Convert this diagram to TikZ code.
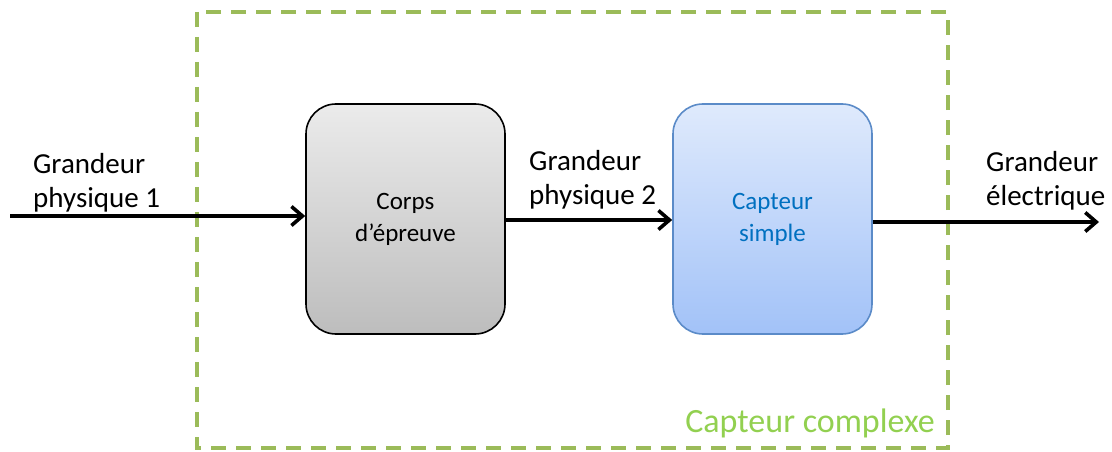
\documentclass[tikz,border=0pt]{standalone}
\usepackage{fontspec}
\setmainfont{Carlito}
\usetikzlibrary{arrows.meta}
\definecolor{frameGreen}{HTML}{9BBB59}
\definecolor{textGreen}{HTML}{92D050}
\definecolor{blueText}{HTML}{0070C0}
\definecolor{blueBorder}{HTML}{5B8BC8}
\definecolor{grayTop}{HTML}{EBEBEB}
\definecolor{grayBot}{HTML}{BDBDBD}
\definecolor{blueTop}{HTML}{DFEAFC}
\definecolor{blueBot}{HTML}{A2C2F8}
\tikzset{
  blockbox/.style={rounded corners=30pt, minimum width=199pt, minimum height=230pt,
    line width=1.6pt, align=center, inner sep=0pt, font=\fontsize{25}{32}\selectfont},
  graybox/.style={blockbox, draw=black, top color=grayTop, bottom color=grayBot},
  bluebox/.style={blockbox, draw=blueBorder, top color=blueTop, bottom color=blueBot, text=blueText},
  flow/.style={line width=3.6pt, -{Straight Barb[length=11pt,width=19pt]}},
  label/.style={anchor=north west, inner sep=0pt, align=left, font=\fontsize{29}{34}\selectfont},
  framebox/.style={draw=frameGreen, line width=4pt, dash pattern=on 15pt off 10pt}
}
\begin{document}
\begin{tikzpicture}[x=1pt,y=-1pt]
\useasboundingbox (0,0) rectangle (1112,452);
\draw[framebox] (197,12) rectangle (948,448);
\node[anchor=base east, inner sep=0pt, text=textGreen, font=\fontsize{34}{40}\selectfont] (complexe) at (935,432) {Capteur complexe};
\node[graybox] (corps) at (405.5,219) {\rule{0pt}{8pt}Corps\\d’épreuve};
\node[bluebox] (capteur) at (772.5,219) {\rule{0pt}{8pt}Capteur\\simple};
\coordinate (in) at (10,216);
\coordinate (out) at (1099,222);
\draw[flow] (in) -- (corps.west |- in);
\draw[flow] (corps.east |- 0,220) -- (capteur.west |- 0,220);
\draw[flow] (capteur.east |- out) -- (out);
\node[label] (g1) at (33,153) {Grandeur\\physique 1};
\node[label] (g2) at (529,150) {Grandeur\\physique 2};
\node[label] (g3) at (986,151) {Grandeur\\électrique};
\end{tikzpicture}
\end{document}
